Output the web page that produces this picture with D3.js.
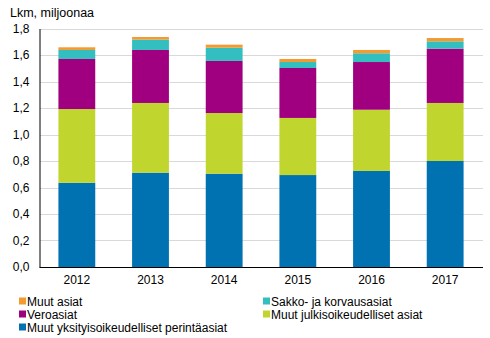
<!DOCTYPE html>
<html><head><meta charset="utf-8">
<script src="https://cdn.jsdelivr.net/npm/d3@7"></script>
<style>body{margin:0;background:#fff}svg{display:block;font-family:"Liberation Sans",Arial,sans-serif}</style>
</head><body>
<svg id="c" width="490" height="338"></svg>
<script>
const years = ["2012","2013","2014","2015","2016","2017"];
const seriesNames = ["Muut yksityisoikeudelliset perintäasiat","Muut julkisoikeudelliset asiat","Veroasiat","Sakko- ja korvausasiat","Muut asiat"];
const yksityis = [0.636,0.712,0.704,0.694,0.725,0.800];
const julkis   = [0.556,0.526,0.458,0.431,0.462,0.438];
const vero     = [0.378,0.400,0.393,0.377,0.360,0.410];
const sakko    = [0.068,0.078,0.100,0.045,0.066,0.055];
const muut     = [0.020,0.020,0.023,0.023,0.025,0.025];
const yTicks = [0,0.2,0.4,0.6,0.8,1.0,1.2,1.4,1.6,1.8];
const colors = ["#0072b1","#c1d52f","#a0007f","#33bfbf","#f39a30"];

const seriesVals = [yksityis,julkis,vero,sakko,muut];
const rows = years.map((y,i)=>{const o={year:y};seriesNames.forEach((n,k)=>o[n]=seriesVals[k][i]);return o;});
const stack = d3.stack().keys(seriesNames)(rows);

const svg = d3.select("#c");
const x = d3.scaleBand().domain(years).range([40,482]).paddingInner(0.5).paddingOuter(0.25);
const y = d3.scaleLinear().domain([0,1.8]).range([267,28.5]);

// gridlines
svg.append("g").selectAll("line").data(yTicks.slice(1)).join("line")
  .attr("x1",40).attr("x2",483).attr("y1",d=>Math.round(y(d))+0.5).attr("y2",d=>Math.round(y(d))+0.5)
  .attr("stroke","#d9d9d9").attr("stroke-width",1);

// bars
svg.append("g").selectAll("g").data(stack).join("g").attr("fill",(d,i)=>colors[i])
  .selectAll("rect").data(d=>d).join("rect")
  .attr("x",d=>x(d.data.year)).attr("width",x.bandwidth())
  .attr("y",d=>y(d[1])).attr("height",d=>y(d[0])-y(d[1]));

// axes
const yAxis = svg.append("g").attr("transform","translate(39.5,0)")
  .call(d3.axisLeft(y).tickValues(yTicks).tickSize(0).tickPadding(10).tickFormat(d=>d3.format(".1f")(d).replace(".",",")));
yAxis.select(".domain").attr("stroke","#000");
yAxis.selectAll("text").attr("font-size",12).attr("fill","#000").attr("font-family","Liberation Sans, Arial, sans-serif");

const xAxis = svg.append("g").attr("transform","translate(0,267.5)")
  .call(d3.axisBottom(x).tickSize(0).tickPadding(8));
xAxis.select(".domain").attr("stroke","#000").attr("d","M39.5,0H483");
xAxis.selectAll("text").attr("font-size",12).attr("fill","#000").attr("font-family","Liberation Sans, Arial, sans-serif");

svg.append("text").attr("x",10).attr("y",17).attr("font-size",12.5).attr("fill","#000").text("Lkm, miljoonaa");

// legend
const legendOrder = [
  {k:4,col:0,row:0},{k:3,col:1,row:0},
  {k:2,col:0,row:1},{k:1,col:1,row:1},
  {k:0,col:0,row:2}
];
const lg = svg.append("g").selectAll("g").data(legendOrder).join("g")
  .attr("transform",d=>`translate(${d.col?263:19},${301+d.row*13})`);
lg.append("rect").attr("x",0).attr("y",-3.5).attr("width",7).attr("height",7).attr("fill",d=>colors[d.k]);
lg.append("text").attr("x",8).attr("y",4.5).attr("font-size",12).attr("fill","#000").text(d=>seriesNames[d.k]);
</script>
</body></html>
